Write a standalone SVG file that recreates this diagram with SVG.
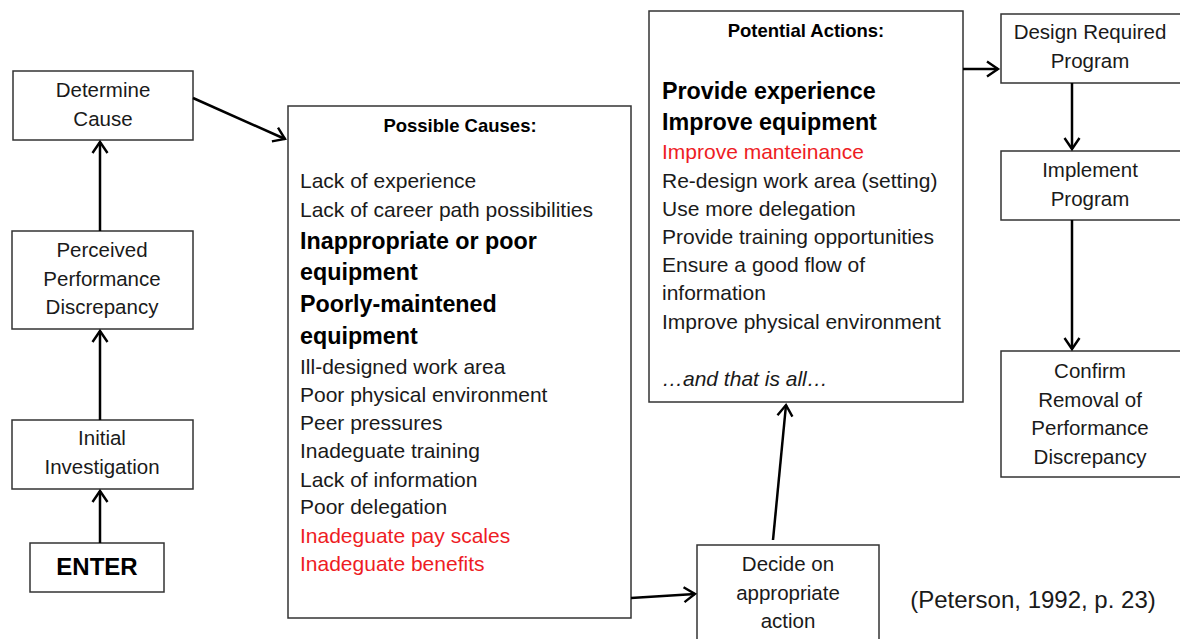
<svg xmlns="http://www.w3.org/2000/svg" width="1180" height="639" viewBox="0 0 1180 639">
<defs>
<style>
.box{fill:#fff;stroke:#333;stroke-width:1.5}
text{font-family:"Liberation Sans",Arial,sans-serif;fill:#1a1a1a}
.n{font-size:20.5px;text-anchor:middle}
.t{font-size:21px}
.b{font-size:23.3px;font-weight:bold;fill:#000}
.h{font-size:18.5px;font-weight:bold;text-anchor:middle;fill:#000}
.r{fill:#ee1c24}
.c{stroke:#000;stroke-width:2.5;fill:none}
</style>
<marker id="ah" viewBox="0 0 12 16" refX="11" refY="8" markerWidth="12" markerHeight="16" markerUnits="userSpaceOnUse" orient="auto" overflow="visible">
<path d="M0,0.5 L11,8 L0,15.5" fill="none" stroke="#000" stroke-width="2.4"/>
</marker>
</defs>
<rect width="1180" height="639" fill="#fff"/>

<g id="determine">
<rect class="box" x="13" y="71" width="180" height="69"/>
<text class="n" x="103" y="97">Determine</text>
<text class="n" x="103" y="126">Cause</text>
</g>
<g id="perceived">
<rect class="box" x="12" y="231" width="181" height="98"/>
<text class="n" x="102" y="257">Perceived</text>
<text class="n" x="102" y="286">Performance</text>
<text class="n" x="102" y="314">Discrepancy</text>
</g>
<g id="initial">
<rect class="box" x="12" y="420" width="181" height="69"/>
<text class="n" x="102" y="445">Initial</text>
<text class="n" x="102" y="474">Investigation</text>
</g>
<g id="enter">
<rect class="box" x="30" y="543" width="134" height="49"/>
<text x="97" y="575" style="font-size:24px;font-weight:bold;text-anchor:middle;fill:#000">ENTER</text>
</g>

<g id="causes">
<rect class="box" x="288" y="106" width="343" height="512"/>
<text class="h" x="460" y="132">Possible Causes:</text>
<text class="t" x="300" y="188">Lack of experience</text>
<text class="t" x="300" y="217">Lack of career path possibilities</text>
<text class="b" x="300" y="249">Inappropriate or poor</text>
<text class="b" x="300" y="280">equipment</text>
<text class="b" x="300" y="312">Poorly-maintened</text>
<text class="b" x="300" y="344">equipment</text>
<text class="t" x="300" y="374">Ill-designed work area</text>
<text class="t" x="300" y="402">Poor physical environment</text>
<text class="t" x="300" y="430">Peer pressures</text>
<text class="t" x="300" y="458">Inadeguate training</text>
<text class="t" x="300" y="487">Lack of information</text>
<text class="t" x="300" y="514">Poor delegation</text>
<text class="t r" x="300" y="543">Inadeguate pay scales</text>
<text class="t r" x="300" y="571">Inadeguate benefits</text>
</g>

<g id="decide">
<rect class="box" x="697" y="545" width="182" height="100"/>
<text class="n" x="788" y="571">Decide on</text>
<text class="n" x="788" y="600">appropriate</text>
<text class="n" x="788" y="628">action</text>
</g>

<g id="actions">
<rect class="box" x="649" y="11" width="314" height="391"/>
<text class="h" x="806" y="37">Potential Actions:</text>
<text class="b" x="662" y="99">Provide experience</text>
<text class="b" x="662" y="130">Improve equipment</text>
<text class="t r" x="662" y="159">Improve manteinance</text>
<text class="t" x="662" y="188">Re-design work area (setting)</text>
<text class="t" x="662" y="216">Use more delegation</text>
<text class="t" x="662" y="244">Provide training opportunities</text>
<text class="t" x="662" y="272">Ensure a good flow of</text>
<text class="t" x="662" y="300">information</text>
<text class="t" x="662" y="329">Improve physical environment</text>
<text class="t" x="662" y="386" font-style="italic">…and that is all…</text>
</g>

<g id="design">
<rect class="box" x="1001" y="14" width="185" height="69"/>
<text class="n" x="1090" y="39">Design Required</text>
<text class="n" x="1090" y="68">Program</text>
</g>
<g id="implement">
<rect class="box" x="1001" y="151" width="185" height="69"/>
<text class="n" x="1090" y="177">Implement</text>
<text class="n" x="1090" y="206">Program</text>
</g>
<g id="confirm">
<rect class="box" x="1001" y="351" width="185" height="126"/>
<text class="n" x="1090" y="378">Confirm</text>
<text class="n" x="1090" y="407">Removal of</text>
<text class="n" x="1090" y="435">Performance</text>
<text class="n" x="1090" y="464">Discrepancy</text>
</g>

<text x="1033" y="608" style="font-size:24px;text-anchor:middle">(Peterson, 1992, p. 23)</text>

<g id="connectors">
<line class="c" x1="100" y1="543" x2="100" y2="491" marker-end="url(#ah)"/>
<line class="c" x1="100" y1="420" x2="100" y2="331" marker-end="url(#ah)"/>
<line class="c" x1="100" y1="231" x2="100" y2="142" marker-end="url(#ah)"/>
<line class="c" x1="193" y1="98" x2="285" y2="139" marker-end="url(#ah)"/>
<line class="c" x1="631" y1="598" x2="695" y2="594" marker-end="url(#ah)"/>
<line class="c" x1="773" y1="540" x2="786" y2="405" marker-end="url(#ah)"/>
<line class="c" x1="963" y1="69" x2="998" y2="69" marker-end="url(#ah)"/>
<line class="c" x1="1072" y1="83" x2="1072" y2="149" marker-end="url(#ah)"/>
<line class="c" x1="1072" y1="220" x2="1072" y2="349" marker-end="url(#ah)"/>
</g>
</svg>
